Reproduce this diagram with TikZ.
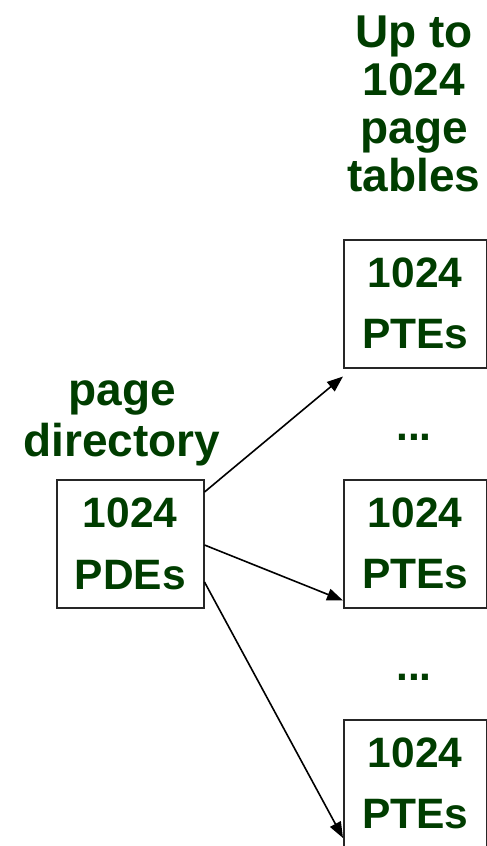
\documentclass[tikz,border=0pt]{standalone}
\usepackage{fontspec}
\setmainfont{Liberation Sans}
\usetikzlibrary{arrows.meta,calc}
\definecolor{dgreen}{RGB}{0,61,0}
\begin{document}
\begin{tikzpicture}[x=1pt,y=-1pt,
  tbl/.style={draw=black!85, line width=1.5pt, minimum width=143pt, minimum height=128pt, inner sep=0pt, anchor=north west},
  ttl/.style={text=dgreen, font=\bfseries\fontsize{46}{48}\selectfont, inner sep=0pt, anchor=base},
  ent/.style={text=dgreen, font=\bfseries\fontsize{42.5}{48}\selectfont, inner sep=0pt, anchor=base},
  ptr/.style={line width=1.6pt, -{Triangle[length=16pt,width=12pt]}}]
\useasboundingbox (0,0) rectangle (487,846);
% title
\node[ttl] (t1) at (414,47) {Up to};
\node[ttl] (t2) at (414,95) {1024};
\node[ttl] (t3) at (414,143) {page};
\node[ttl] (t4) at (414,191) {tables};
% page directory label
\node[ttl] (l1) at (122,405) {page};
\node[ttl] (l2) at (122,456) {directory};
% boxes
\node[tbl, minimum width=147pt] (pde) at (56,479) {};
\node[tbl] (pte1) at (343,239) {};
\node[tbl] (pte2) at (343,479) {};
\node[tbl] (pte3) at (343,719) {};
% box texts
\node[ent] (pdea) at ([yshift=-48pt]pde.north) {1024};
\node[ent] (pdeb) at ([yshift=-110pt]pde.north) {PDEs};
\node[ent] (p1a) at ([yshift=-48pt]pte1.north) {1024};
\node[ent] (p1b) at ([yshift=-109pt]pte1.north) {PTEs};
\node[ent] (p2a) at ([yshift=-48pt]pte2.north) {1024};
\node[ent] (p2b) at ([yshift=-109pt]pte2.north) {PTEs};
\node[ent] (p3a) at ([yshift=-48pt]pte3.north) {1024};
\node[ent] (p3b) at ([yshift=-109pt]pte3.north) {PTEs};
% dots
\node[ent] (d1) at (414,440) {...};
\node[ent] (d2) at (414,680) {...};
% arrow ends
\coordinate (s1) at ([yshift=-13pt]pde.north east);
\coordinate (s2) at ([yshift=-66pt]pde.north east);
\coordinate (s3) at ([yshift=-103pt]pde.north east);
\coordinate (e1) at ([yshift=-8pt]pte1.south west);
\coordinate (e2) at ([yshift=8pt]pte2.south west);
\coordinate (e3) at ([yshift=-119pt]pte3.north west);
\draw[ptr] (s1) -- (e1);
\draw[ptr] (s2) -- (e2);
\draw[ptr] (s3) -- (e3);
\end{tikzpicture}
\end{document}
